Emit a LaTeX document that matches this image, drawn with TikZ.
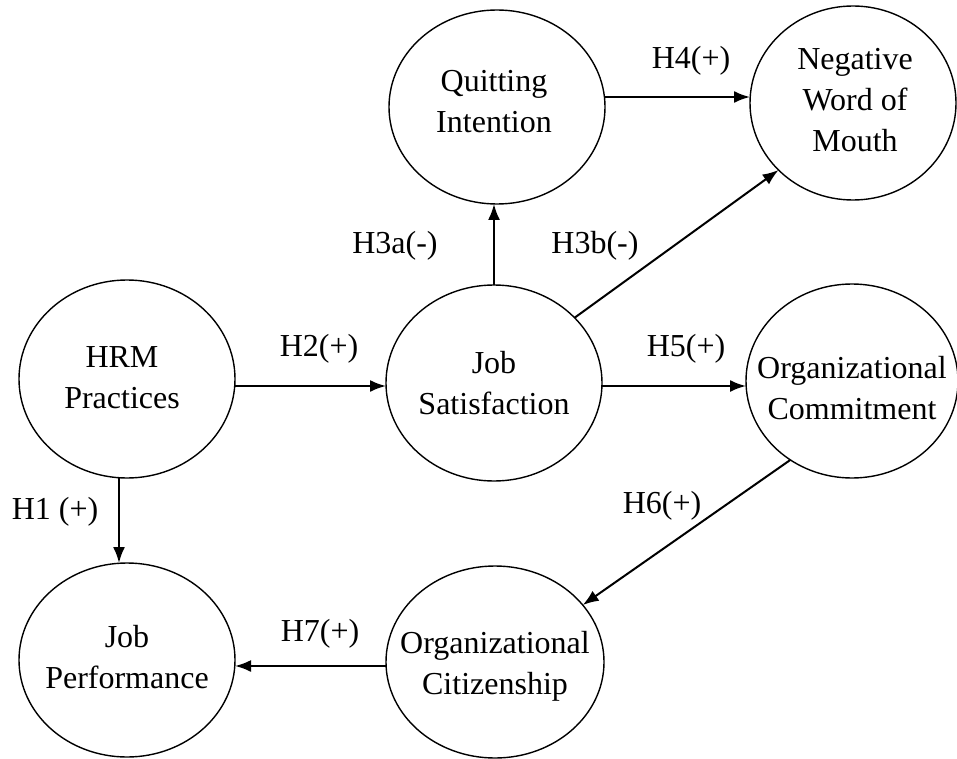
\documentclass[tikz,border=0pt]{standalone}
\usepackage{fontspec}
\setmainfont{Liberation Serif}
\usetikzlibrary{shapes.geometric,arrows.meta,calc}
\begin{document}
\begin{tikzpicture}[x=0.5pt,y=-0.5pt,
  oval/.style={draw,ellipse,inner sep=0pt,outer sep=0pt,line width=0.7pt},
  txt/.style={align=center,font=\fontsize{16}{20.5}\selectfont,inner sep=0pt},
  lab/.style={font=\fontsize{16}{20.5}\selectfont,inner sep=0pt},
  conn/.style={line width=1pt,-{Latex[length=8pt,width=6pt]}}]
\useasboundingbox (0,0) rectangle (957,759);
% ellipses
\node[oval,minimum width=108pt,minimum height=97pt] (qi) at (497,107) {};
\node[oval,minimum width=103pt,minimum height=97pt] (nw) at (853,103) {};
\node[oval,minimum width=108pt,minimum height=99pt] (hrm) at (127,379) {};
\node[oval,minimum width=108pt,minimum height=98pt] (js) at (494,383) {};
\node[oval,minimum width=106pt,minimum height=97pt] (oc) at (852,381) {};
\node[oval,minimum width=108pt,minimum height=97pt] (jp) at (127,660) {};
\node[oval,minimum width=109pt,minimum height=96pt] (ocit) at (495,662) {};
% texts
\node[txt] (tqi) at (494,102) {Quitting\\Intention};
\node[txt] (tnw) at (855,100) {Negative\\Word of\\Mouth};
\node[txt] (thrm) at (122,378) {HRM\\Practices};
\node[txt] (tjs) at (494,383) {Job\\Satisfaction};
\node[txt] (toc) at (852,388) {Organizational\\Commitment};
\node[txt] (tjp) at (127,657) {Job\\Performance};
\node[txt] (tocit) at (495,666) {Organizational\\Citizenship};
% connectors
\draw[conn] ($(qi.east)+(0,-10)$) -- ($(nw.west)+(0,-6)$);
\draw[conn] (js.north) -- (js.north |- qi.south);
\draw[conn] (js.39.5) -- (nw.222.6);
\draw[conn] ($(hrm.east)+(0,7)$) -- ($(js.west)+(0,3)$);
\draw[conn] ($(js.east)+(0,3)$) -- ($(oc.west)+(0,5)$);
\draw[conn] (oc.232) -- (ocit.33);
\draw[conn] ($(hrm.south)+(-8,0)$) -- ($(jp.north)+(-8,0)$);
\draw[conn] ($(ocit.west)+(0,4)$) -- ($(jp.east)+(0,6)$);
% labels
\node[lab] (l4) at (691,61) {H4(+)};
\node[lab] (l3a) at (395,246) {H3a(-)};
\node[lab] (l3b) at (595,246) {H3b(-)};
\node[lab] (l2) at (319,349) {H2(+)};
\node[lab] (l5) at (686,349) {H5(+)};
\node[lab] (l6) at (662,506) {H6(+)};
\node[lab] (l1) at (55,512) {H1 (+)};
\node[lab] (l7) at (320,634) {H7(+)};
\end{tikzpicture}
\end{document}
